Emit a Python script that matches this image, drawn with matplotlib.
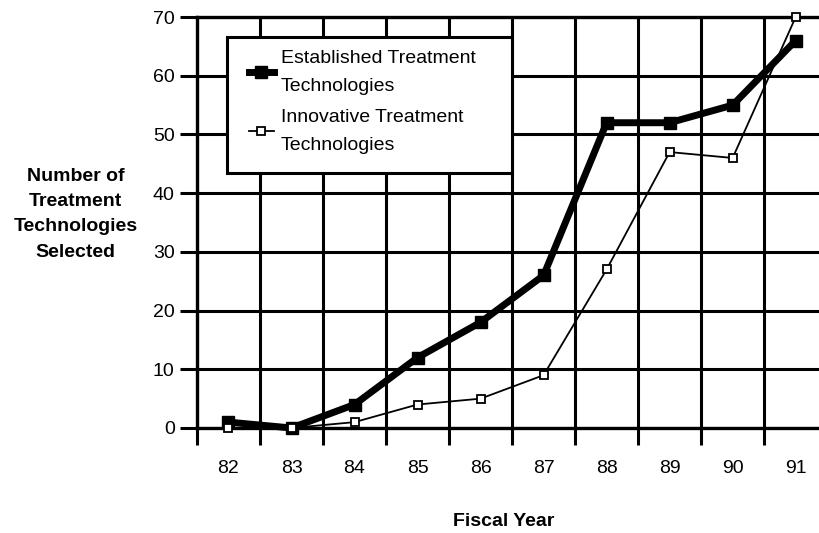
import matplotlib
matplotlib.use("Agg")
import matplotlib.pyplot as plt
from matplotlib.patches import Rectangle

plt.rcParams['font.family'] = ['Liberation Sans', 'DejaVu Sans']

lata = [82, 83, 84, 85, 86, 87, 88, 89, 90, 91]
ustalone = [1, 0, 4, 12, 18, 26, 52, 52, 55, 66]
innowacyjne = [0, 0, 1, 4, 5, 9, 27, 47, 46, 70]
etykiety_y = [0, 10, 20, 30, 40, 50, 60, 70]

fig = plt.figure(figsize=(8.19, 5.33), dpi=100)
ax = fig.add_axes([0.2405, 0.197, 0.7595, 0.771])

# siatka rysowana jako glowne ticki (polowki lat na osi x)
ax.set_xlim(81.5, 91.37)
ax.set_ylim(0, 70)
ax.set_xticks([r + 0.5 for r in range(81, 91)])
ax.set_xticklabels([])
ax.set_xticks(lata, minor=True)
ax.set_xticklabels([str(r) for r in lata], minor=True, fontsize=14)
ax.set_yticks(etykiety_y)
ax.set_yticklabels([str(v) for v in etykiety_y], fontsize=14)
ax.tick_params(axis='x', which='major', length=12, width=2.2, direction='out')
ax.tick_params(axis='x', which='minor', length=0, pad=23)
ax.tick_params(axis='y', length=12, width=2.2, pad=4)
ax.grid(True, which='major', color='black', linewidth=2.2)
for s in ['left', 'top', 'bottom']:
    ax.spines[s].set_linewidth(2.4)
ax.spines['right'].set_visible(False)

ax.plot(lata, ustalone, color='black', linewidth=5, marker='s', markersize=8,
        clip_on=False, zorder=5, label='Established Treatment\nTechnologies')
ax.plot(lata, innowacyjne, color='black', linewidth=1.3, marker='s', markersize=6,
        markerfacecolor='white', markeredgewidth=1.3, clip_on=False, zorder=6,
        label='Innovative Treatment\nTechnologies')

ax.add_patch(Rectangle((0.048, 0.62), 0.458, 0.331, transform=ax.transAxes,
                       facecolor='white', edgecolor='black', linewidth=2.2, zorder=7))
leg = ax.legend(loc='upper left', bbox_to_anchor=(0.055, 0.962), frameon=False,
                fontsize=14, handlelength=1.3, handletextpad=0.35, labelspacing=0.75)
for t in leg.get_texts():
    t.set_linespacing(1.8)
leg.set_zorder(8)

fig.text(0.092, 0.598, 'Number of\nTreatment\nTechnologies\nSelected', ha='center',
         va='center', fontsize=14, fontweight='bold', linespacing=1.65)
fig.text(0.615, 0.006, 'Fiscal Year', ha='center', va='bottom', fontsize=14,
         fontweight='bold')

plt.savefig('out.png', dpi=100)
